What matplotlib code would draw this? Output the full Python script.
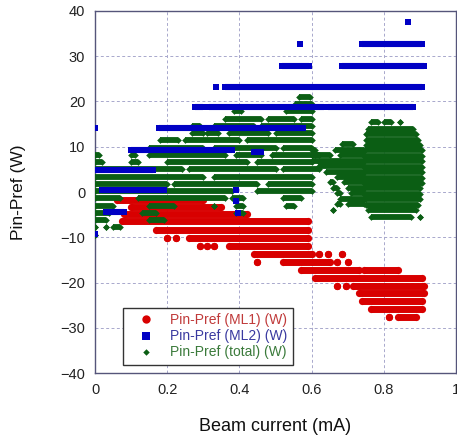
import matplotlib
matplotlib.use('Agg')
import matplotlib.pyplot as plt
from matplotlib.lines import Line2D
import numpy as np

plt.rcParams['font.family'] = ['Liberation Sans', 'DejaVu Sans']

# ---------------- data (runs of points: start x, end x, y) ----------------
# Pin-Pref (ML1)
ml1_x0 = [0.06, 0.10, 0.08, 0.075, 0.17, 0.20, 0.225, 0.26, 0.29, 0.31, 0.33, 0.37,
          0.44, 0.62, 0.645, 0.685, 0.45, 0.52, 0.67, 0.70, 0.57, 0.745, 0.61,
          0.67, 0.695, 0.715, 0.73, 0.74, 0.765, 0.815, 0.84]
ml1_x1 = [0.30, 0.35, 0.42, 0.59, 0.59, 0.20, 0.225, 0.59, 0.29, 0.31, 0.33, 0.59,
          0.60, 0.62, 0.645, 0.685, 0.45, 0.65, 0.67, 0.70, 0.73, 0.84, 0.905,
          0.67, 0.695, 0.91, 0.91, 0.905, 0.905, 0.815, 0.89]
ml1_y = [-1.8, -3.3, -4.8, -6.5, -8.3, -10.1, -10.1, -10.1, -11.9, -11.9, -11.9, -11.9,
         -13.7, -13.7, -13.7, -13.7, -15.5, -15.5, -15.5, -15.5, -17.2, -17.2, -19.0,
         -20.8, -20.8, -20.8, -22.4, -24.1, -25.9, -27.7, -27.7]

# Pin-Pref (ML2)
ml2_x0 = [0.867, 0.568, 0.74, 0.517, 0.685, 0.336, 0.36, 0.278, 0.315, 0.645,
          0.0, 0.177, 0.10, 0.44, 0.0, 0.02, 0.03, 0.39, 0.39, 0.395, 0.0]
ml2_x1 = [0.867, 0.568, 0.905, 0.594, 0.91, 0.336, 0.905, 0.298, 0.635, 0.88,
          0.0, 0.575, 0.38, 0.46, 0.16, 0.19, 0.08, 0.39, 0.39, 0.395, 0.0]
ml2_y = [37.5, 32.6, 32.6, 27.9, 27.9, 23.3, 23.3, 18.7, 18.7, 18.7,
         14.1, 14.1, 9.3, 8.9, 4.9, 0.5, -4.4, 0.4, -2.0, -4.6, -9.3]

# Pin-Pref (total)
tot_x0 = [
    0.565,                                   # 21.0
    0.555,                                   # 19.4
    0.385, 0.53,                             # 17.8
    0.36, 0.48, 0.57,                        # 16.2
    0.27, 0.33, 0.46,                        # 14.6
    0.27, 0.31, 0.37, 0.50,                  # 13.0
    0.18, 0.25, 0.42,                        # 11.4
    0.15, 0.33, 0.52,                        # 9.8
    0.0, 0.10, 0.15, 0.39, 0.49, 0.61,       # 8.2
    0.0, 0.10, 0.20, 0.45, 0.62,             # 6.6
    0.0, 0.26, 0.52,                         # 5.0
    0.0, 0.33,                               # 3.4
    0.0, 0.22, 0.48,                         # 1.8
    0.0, 0.45,                               # 0.2
    0.0, 0.12, 0.38, 0.52,                   # -1.4
    0.0, 0.15, 0.33, 0.39, 0.53,             # -3.0
    0.0, 0.13, 0.39,                         # -4.6
    0.0, 0.15,                               # -6.2
    0.0, 0.03, 0.05,                         # -7.8
    0.0,                                     # -9.4
    # middle region
    0.685, 0.60, 0.665, 0.60, 0.68, 0.60, 0.62, 0.64, 0.67, 0.65, 0.69,
    0.66, 0.70, 0.67, 0.71, 0.68, 0.67, 0.70, 0.66,
    # cloud
    0.765, 0.80, 0.845, 0.755, 0.75, 0.75, 0.75, 0.748, 0.745, 0.745, 0.745,
    0.745, 0.745, 0.745, 0.745, 0.745, 0.748, 0.75, 0.755, 0.765, 0.90]
tot_x1 = [
    0.595,
    0.60,
    0.405, 0.60,
    0.46, 0.55, 0.60,
    0.29, 0.44, 0.60,
    0.30, 0.34, 0.48, 0.60,
    0.23, 0.40, 0.60,
    0.30, 0.50, 0.60,
    0.01, 0.11, 0.36, 0.46, 0.60, 0.65,
    0.02, 0.12, 0.42, 0.60, 0.66,
    0.24, 0.50, 0.62,
    0.30, 0.60,
    0.20, 0.45, 0.60,
    0.38, 0.60,
    0.07, 0.36, 0.41, 0.57,
    0.05, 0.22, 0.33, 0.41, 0.55,
    0.04, 0.17, 0.41,
    0.03, 0.19,
    0.0, 0.03, 0.07,
    0.0,
    # middle region
    0.715, 0.61, 0.745, 0.62, 0.745, 0.745, 0.745, 0.745, 0.745, 0.66, 0.745,
    0.67, 0.745, 0.68, 0.745, 0.745, 0.68, 0.745, 0.66,
    # cloud
    0.785, 0.82, 0.845, 0.88, 0.89, 0.895, 0.90, 0.905, 0.905, 0.905, 0.905,
    0.905, 0.905, 0.905, 0.90, 0.90, 0.90, 0.895, 0.89, 0.875, 0.90]
tot_y = [
    21.0,
    19.4,
    17.8, 17.8,
    16.2, 16.2, 16.2,
    14.6, 14.6, 14.6,
    13.0, 13.0, 13.0, 13.0,
    11.4, 11.4, 11.4,
    9.8, 9.8, 9.8,
    8.2, 8.2, 8.2, 8.2, 8.2, 8.2,
    6.6, 6.6, 6.6, 6.6, 6.6,
    5.0, 5.0, 5.0,
    3.4, 3.4,
    1.8, 1.8, 1.8,
    0.2, 0.2,
    -1.4, -1.4, -1.4, -1.4,
    -3.0, -3.0, -3.0, -3.0, -3.0,
    -4.6, -4.6, -4.6,
    -6.2, -6.2,
    -7.8, -7.8, -7.8,
    -9.4,
    # middle region
    10.5, 9.3, 9.3, 8.1, 8.1, 6.9, 5.7, 4.5, 3.3, 2.1, 2.1,
    0.9, 0.9, -0.3, -0.3, -1.5, -2.7, -2.7, -4.0,
    # cloud
    15.5, 15.5, 15.5, 14.0, 12.8, 11.6, 10.4, 9.2, 8.0, 6.8, 5.6,
    4.4, 3.2, 2.0, 0.8, -0.4, -1.6, -2.8, -4.0, -5.5, -5.5]

labels = ['Pin-Pref (ML1) (W)', 'Pin-Pref (ML2) (W)', 'Pin-Pref (total) (W)']
x_ticks = [0, 0.2, 0.4, 0.6, 0.8, 1.0]
x_ticklabels = ['0', '0.2', '0.4', '0.6', '0.8', '1']
y_ticks = [-40, -30, -20, -10, 0, 10, 20, 30, 40]

# ---------------- styles ----------------
RED = '#d80000'
BLUE = '#0000c4'
GREEN = '#0b5e14'

fig = plt.figure(figsize=(4.57, 4.40), dpi=100)
ax = fig.add_axes([95 / 457, 1 - 373 / 440, 361 / 457, 362 / 440])


def draw_runs(x0, x1, y, color, marker, ms, lw, z):
    xs, ys = [], []
    for a, b, c in zip(x0, x1, y):
        xs += [a, b, np.nan]
        ys += [c, c, np.nan]
    ax.plot(xs, ys, color=color, lw=lw, solid_capstyle='butt', zorder=z)
    ax.plot(list(x0) + list(x1), list(y) + list(y), linestyle='none',
            marker=marker, ms=ms, mew=0, color=color, zorder=z)


draw_runs(ml1_x0, ml1_x1, ml1_y, RED, 'o', 5.2, 5.0, 2)
draw_runs(tot_x0, tot_x1, tot_y, GREEN, 'D', 3.4, 4.2, 3)
draw_runs(ml2_x0, ml2_x1, ml2_y, BLUE, 's', 4.4, 4.4, 4)

ax.set_xlim(0, 1)
ax.set_ylim(-40, 40)
ax.set_xticks(x_ticks)
ax.set_xticklabels(x_ticklabels)
ax.set_yticks(y_ticks)
ax.tick_params(length=0, pad=7, labelsize=10.5, labelcolor='#222222')
ax.grid(True, linestyle=(0, (3, 2.5)), color='#a8a8cc', linewidth=0.7)
ax.set_axisbelow(True)
for s in ax.spines.values():
    s.set_color('#55557a')
    s.set_linewidth(1.0)

ax.set_xlabel('Beam current (mA)', fontsize=13, color='#111111')
ax.xaxis.set_label_coords(0.5, (373 - 426) / 362)
ax.xaxis.label.set_va('center')
ax.set_ylabel('Pin-Pref (W)', fontsize=12.5, color='#111111')
ax.yaxis.set_label_coords((18 - 95) / 361, 0.5)
ax.yaxis.label.set_va('center')

handles = [Line2D([], [], linestyle='none', marker='o', ms=6, mew=0, color=RED),
           Line2D([], [], linestyle='none', marker='s', ms=5.5, mew=0, color=BLUE),
           Line2D([], [], linestyle='none', marker='D', ms=3.3, mew=0, color=GREEN)]
leg = ax.legend(handles, labels, loc='lower left',
                bbox_to_anchor=((123 - 95) / 361, (373 - 365) / 362),
                borderaxespad=0, fontsize=10, frameon=True, fancybox=False,
                framealpha=1, edgecolor='#333333', handlelength=2.5,
                handletextpad=0.5, labelspacing=0.15, borderpad=0.4)
leg.get_frame().set_linewidth(1.0)
leg.set_zorder(10)
for t, c in zip(leg.get_texts(), ['#c03a3a', '#3a3aa0', '#3a7a3a']):
    t.set_color(c)

fig.savefig('out.png', dpi=100)
